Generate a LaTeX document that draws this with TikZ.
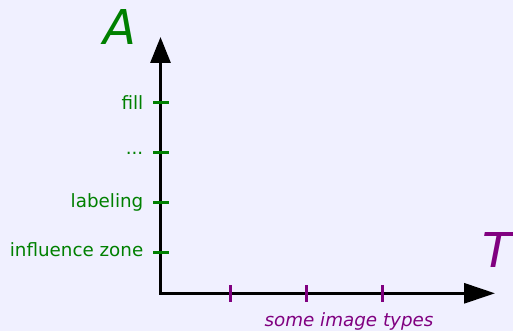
\documentclass[tikz,border=0pt]{standalone}
\usepackage{fontspec}
\setmainfont{DejaVu Sans}
\usetikzlibrary{arrows.meta}
\definecolor{bg}{RGB}{240,240,255}
\definecolor{agreen}{RGB}{0,128,0}
\definecolor{tpurple}{RGB}{128,0,128}
\tikzset{
  axis/.style={line width=3pt, line join=miter, black},
  ytick/.style={line width=3pt, agreen},
  xtick/.style={line width=3pt, tpurple},
  ylab/.style={anchor=east, text=agreen, inner sep=0pt, font=\fontsize{18.3}{20}\selectfont},
  big/.style={inner sep=0pt, anchor=base, font=\fontsize{48}{52}\selectfont\itshape},
}
\begin{document}
\begin{tikzpicture}[x=1pt,y=-1pt]
\fill[bg] (0,0) rectangle (513,331);
\useasboundingbox (0,0) rectangle (513,331);
\coordinate (O) at (160.5,293.3);
\coordinate (Ytop) at (160.5,37);
\coordinate (Xend) at (495,293.3);
\draw[axis, {Triangle[length=26pt,width=20pt]}-{Triangle[length=31pt,width=20pt]}] (Ytop) -- (O) -- (Xend);
% y ticks
\foreach \y/\n in {102.7/fill,152.7/dots,202.7/lab,252.3/inf}{
  \coordinate (t\n a) at (153,\y);
  \coordinate (t\n b) at (169,\y);
  \draw[ytick] (t\n a) -- (t\n b);
}
\node[ylab] (lfill) at (143.5,102.7) {fill};
\node[ylab, anchor=base east] (ldots) at (143.5,154.8) {...};
\node[ylab] (llab) at (143.5,202.7) {labeling};
\node[ylab] (linf) at (143.5,249.5) {influence zone};
% x ticks
\foreach \x/\n in {230.7/a,306.7/b,382.3/c}{
  \coordinate (x\n a) at (\x,285);
  \coordinate (x\n b) at (\x,301.5);
  \draw[xtick] (x\n a) -- (x\n b);
}
\node[inner sep=0pt, anchor=base, text=tpurple, font=\fontsize{18.3}{20}\selectfont\itshape] (types) at (349,326.5) {some image types};
\node[big, text=agreen] (A) at (120,45) {A};
\node[big, text=tpurple, anchor=base west] (T) at (482,267.5) {T};
\end{tikzpicture}
\end{document}
